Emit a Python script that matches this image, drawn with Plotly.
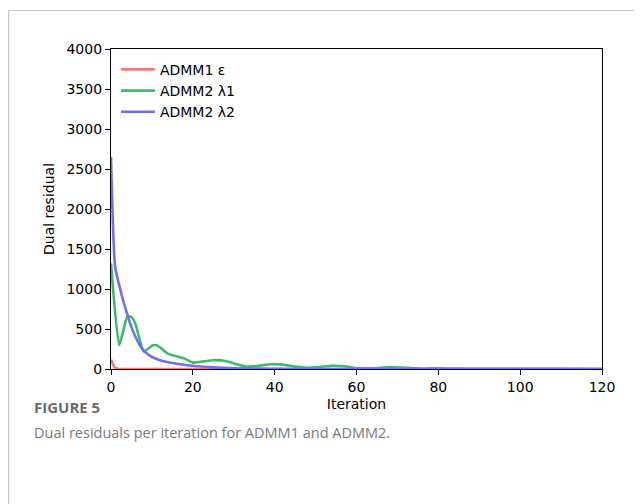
import plotly.graph_objects as go

# ---- data ----
red_x = [0, 1, 2, 5, 20, 60, 120]
red_y = [120, 15, 0, 0, 0, 0, 0]

green_x = [0, 2, 3, 4, 5, 6, 7, 8, 9, 10, 11, 12, 14, 16, 18, 20, 22, 25, 28, 30, 33,
           36, 39, 42, 45, 48, 51, 54, 57, 60, 64, 68, 72, 76, 80, 85, 90, 100, 110, 120]
green_y = [1320, 300, 480, 650, 650, 560, 370, 220, 250, 290, 300, 270, 190, 160, 130, 80,
           90, 110, 100, 70, 30, 40, 60, 55, 30, 15, 25, 40, 35, 10, 10, 20, 15, 5, 10, 5,
           3, 2, 1, 0]

blue_x = [0, 1, 2, 3, 4, 5, 6, 7, 8, 9, 10, 12, 14, 17, 20, 25, 30, 40, 60, 120]
blue_y = [2650, 1280, 1050, 850, 680, 520, 400, 300, 230, 185, 150, 110, 85, 60, 40, 20, 8,
          2, 0, 0]

series_names = ["ADMM1 ε", "ADMM2 λ1", "ADMM2 λ2"]
x_ticks = [0, 20, 40, 60, 80, 100, 120]
y_ticks = [0, 500, 1000, 1500, 2000, 2500, 3000, 3500, 4000]

colors = ["#f47a7a", "#3dba6a", "#7070f6"]

fig = go.Figure()
for (xs, ys), name, col in zip([(red_x, red_y), (green_x, green_y), (blue_x, blue_y)],
                               series_names, colors):
    fig.add_trace(go.Scatter(x=xs, y=ys, mode="lines", name=name,
                             line=dict(color=col, width=2.6, shape="spline", smoothing=0.6)))

# page body has an 8px margin, so positions are shifted by 8px
OFF = 8
L, R, T, B = 111 - OFF, 602 - OFF, 49 - OFF, 369 - OFF
W, H = 642, 504

def px(xp):
    return (xp - OFF - L) / (R - L)

def py(yp):
    return (B - (yp - OFF)) / (B - T)

axis_common = dict(showgrid=False, zeroline=False, showline=True, linecolor="black",
                   linewidth=1.2, mirror=True, ticks="outside", ticklen=5, tickwidth=1.2,
                   tickcolor="black", tickfont=dict(family="DejaVu Sans", size=14, color="black"))

fig.update_layout(
    width=W, height=H,
    margin=dict(l=L, r=W - R, t=T, b=H - B),
    plot_bgcolor="white", paper_bgcolor="white",
    showlegend=True,
    legend=dict(x=0.01, y=0.985, xanchor="left", yanchor="top", bgcolor="rgba(0,0,0,0)",
                font=dict(family="DejaVu Sans", size=14, color="black"),
                itemwidth=34, tracegroupgap=0),
    xaxis=dict(range=[0, 120], tickvals=x_ticks,
               title=dict(text="Iteration", font=dict(family="DejaVu Sans", size=14, color="black"),
                          standoff=5),
               **axis_common),
    yaxis=dict(range=[0, 4000], tickvals=y_ticks,
               title=dict(text="Dual residual", font=dict(family="DejaVu Sans", size=14, color="black"),
                          standoff=8),
               **axis_common),
    shapes=[
        dict(type="line", xref="paper", yref="paper", x0=px(8.6), x1=px(660), y0=py(10.5), y1=py(10.5),
             line=dict(color="#c8c8c8", width=1.2)),
        dict(type="line", xref="paper", yref="paper", x0=px(8.6), x1=px(8.6), y0=py(10), y1=py(520),
             line=dict(color="#c8c8c8", width=1.2)),
    ],
    annotations=[
        dict(text="<b>FIGURE 5</b>", xref="paper", yref="paper", x=px(32), y=py(407),
             xanchor="left", yanchor="middle", showarrow=False,
             font=dict(family="Open Sans", size=15, color="#6b6b6b")),
        dict(text="Dual residuals per iteration for ADMM1 and ADMM2.", xref="paper", yref="paper",
             x=px(32), y=py(432), xanchor="left", yanchor="middle", showarrow=False,
             font=dict(family="Open Sans", size=14.5, color="#7a7a7a")),
    ],
)

fig.write_html("out.html")
